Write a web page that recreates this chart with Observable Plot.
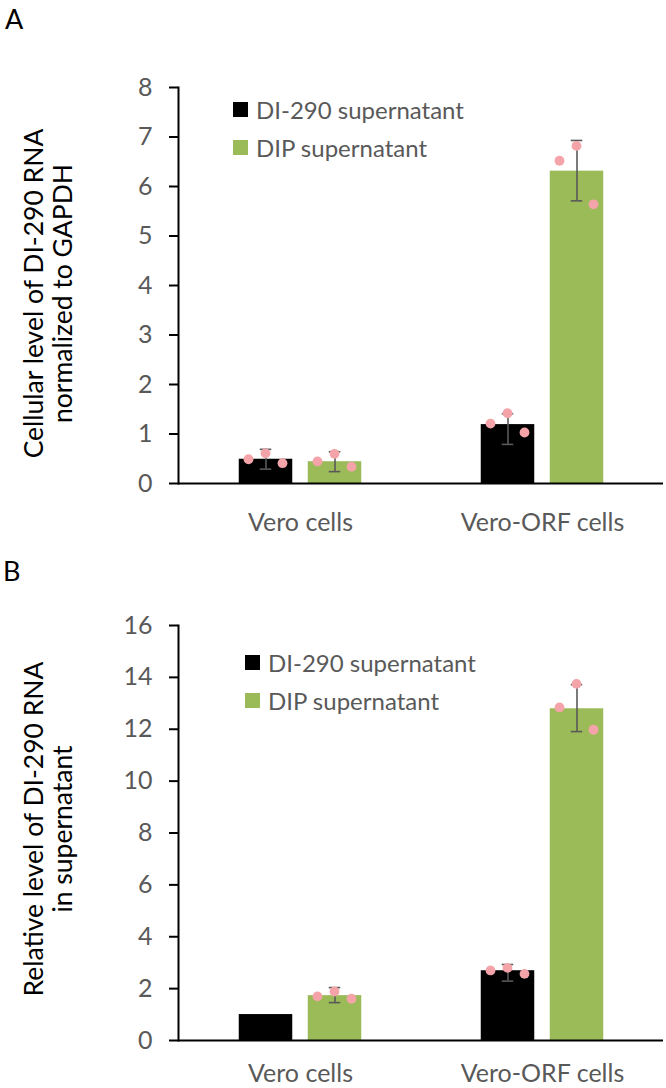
<!DOCTYPE html>
<html>
<head>
<meta charset="utf-8">
<script src="https://cdn.jsdelivr.net/npm/d3@7"></script>
<script src="https://cdn.jsdelivr.net/npm/@observablehq/plot@0.6"></script>
<style>
  body { margin: 0; background: #fff; }
  #wrap { position: relative; width: 666px; height: 1088px; overflow: hidden; font-family: Lato, "Open Sans", sans-serif; background: #fff; }
  .panel { position: absolute; left: 0; }
  .plabel { position: absolute; font-size: 27px; color: #000; line-height: 1; }
  .lrow { position: absolute; display: flex; align-items: center; white-space: nowrap; font-size: 24px; color: #595959; height: 30px; }
  .sw { width: 15px; height: 15px; margin-right: 8px; flex: none; }
  g[aria-label="y-axis tick label"], g[aria-label="x-axis tick label"] { fill: #595959; }
</style>
</head>
<body>
<div id="wrap"></div>
<script>
// ---------- data ----------
const categories = ["Vero cells", "Vero-ORF cells"];
const series = ["DI-290 supernatant", "DIP supernatant"];
const seriesColors = ["#000000", "#9bbb59"];
const dotColor = "#f4a4a9";

// Panel A: cellular level (index [category][series])
const meanA = [[0.49, 0.44], [1.19, 6.31]];
const lowA  = [[0.29, 0.24], [0.79, 5.71]];
const highA = [[0.69, 0.64], [1.41, 6.93]];
const repsA = [
  [[0.49, 0.61, 0.41], [0.445, 0.60, 0.34]],
  [[1.21, 1.42, 1.03], [6.52, 6.82, 5.64]]
];
const ticksA = [0, 1, 2, 3, 4, 5, 6, 7, 8];
const titleA = "Cellular level of DI-290 RNA\nnormalized to GAPDH";

// Panel B: supernatant level
const meanB = [[1.00, 1.73], [2.69, 12.79]];
const lowB  = [[null, 1.46], [2.29, 11.91]];
const highB = [[null, 2.04], [2.93, 13.72]];
const repsB = [
  [[], [1.70, 1.89, 1.61]],
  [[2.70, 2.80, 2.57], [12.84, 13.75, 11.98]]
];
const ticksB = [0, 2, 4, 6, 8, 10, 12, 14, 16];
const titleB = "Relative level of DI-290 RNA\nin supernatant";

// ---------- layout ----------
const W = 666, ML = 178, MR = 3;
const bw = (W - ML - MR) / categories.length;
const barW = 54, capW = 12;
const barOffset = [-34.5, 34.5];
const dotOffset = [-17.5, -0.5, 16.5];

function makePanel({mean, low, high, reps, ticks, title, height, marginTop, marginBottom, titleDy, xPad}) {
  const bars = [], errs = [], pts = [];
  categories.forEach((c, i) => series.forEach((s, j) => {
    bars.push({cat: c, series: s, si: j, value: mean[i][j]});
    if (low[i][j] != null) errs.push({cat: c, si: j, lo: low[i][j], hi: high[i][j]});
    reps[i][j].forEach((v, k) => pts.push({cat: c, si: j, k, value: v}));
  }));
  const marks = [];
  series.forEach((s, j) => {
    const il = bw / 2 + barOffset[j] - barW / 2;
    marks.push(Plot.barY(bars.filter(d => d.si === j), {
      x: "cat", y: "value", fill: seriesColors[j], insetLeft: il, insetRight: bw - il - barW
    }));
  });
  series.forEach((s, j) => {
    const e = errs.filter(d => d.si === j);
    marks.push(Plot.ruleX(e, {x: "cat", y1: "lo", y2: "hi", dx: barOffset[j], stroke: "#595959", strokeWidth: 1.6}));
    const ins = (bw - capW) / 2;
    marks.push(Plot.tickY(e, {x: "cat", y: "hi", dx: barOffset[j], insetLeft: ins, insetRight: ins, stroke: "#595959", strokeWidth: 1.6}));
    marks.push(Plot.tickY(e, {x: "cat", y: "lo", dx: barOffset[j], insetLeft: ins, insetRight: ins, stroke: "#595959", strokeWidth: 1.6}));
  });
  series.forEach((s, j) => dotOffset.forEach((o, k) => {
    marks.push(Plot.dot(pts.filter(d => d.si === j && d.k === k), {
      x: "cat", y: "value", dx: barOffset[j] + o, r: 4.9, fill: dotColor, stroke: "none"
    }));
  }));
  marks.push(Plot.ruleY([0], {stroke: "#000", strokeWidth: 2}));
  marks.push(Plot.frame({anchor: "left", stroke: "#000", strokeWidth: 2}));
  marks.push(Plot.axisY({ticks, tickSize: 9, tickPadding: 17, strokeWidth: 2, fontSize: 25, label: null}));
  marks.push(Plot.axisX({tickSize: 0, tickPadding: xPad, fontSize: 25, label: null}));
  marks.push(Plot.text([title], {
    frameAnchor: "left", text: d => d, rotate: -90, dx: -130, dy: titleDy,
    fontSize: 26.5, lineHeight: 1.08, fill: "#000", textAnchor: "middle"
  }));
  return Plot.plot({
    width: W, height, marginLeft: ML, marginRight: MR, marginTop, marginBottom,
    style: {fontFamily: "Lato, 'Open Sans', sans-serif", fontSize: "24px", color: "#000", background: "#fff", overflow: "visible"},
    x: {type: "band", domain: categories, paddingInner: 0, paddingOuter: 0, label: null},
    y: {domain: [ticks[0], ticks[ticks.length - 1]], label: null},
    marks
  });
}

const wrap = document.getElementById("wrap");

const pA = makePanel({mean: meanA, low: lowA, high: highA, reps: repsA, ticks: ticksA, title: titleA,
  height: 545, marginTop: 87, marginBottom: 62, titleDy: 8, xPad: 30});
pA.classList.add("panel"); pA.style.top = "0px";
wrap.appendChild(pA);

const pB = makePanel({mean: meanB, low: lowB, high: highB, reps: repsB, ticks: ticksB, title: titleB,
  height: 543, marginTop: 80, marginBottom: 48, titleDy: -4, xPad: 24});
pB.classList.add("panel"); pB.style.top = "545px";
wrap.appendChild(pB);

// panel letters
function addLabel(t, left, top) {
  const d = document.createElement("div");
  d.className = "plabel"; d.textContent = t;
  d.style.left = left + "px"; d.style.top = top + "px";
  wrap.appendChild(d);
}
addLabel("A", 5, 5);
addLabel("B", 3, 557);

// legends
function addLegend(left, rowCenters) {
  series.forEach((s, j) => {
    const r = document.createElement("div");
    r.className = "lrow";
    r.style.left = left + "px";
    r.style.top = (rowCenters[j] - 15) + "px";
    const sw = document.createElement("span");
    sw.className = "sw"; sw.style.background = seriesColors[j];
    const tx = document.createElement("span");
    tx.textContent = s;
    r.appendChild(sw); r.appendChild(tx);
    wrap.appendChild(r);
  });
}
addLegend(233, [109, 147]);
addLegend(245, [662, 700]);
</script>
</body>
</html>
